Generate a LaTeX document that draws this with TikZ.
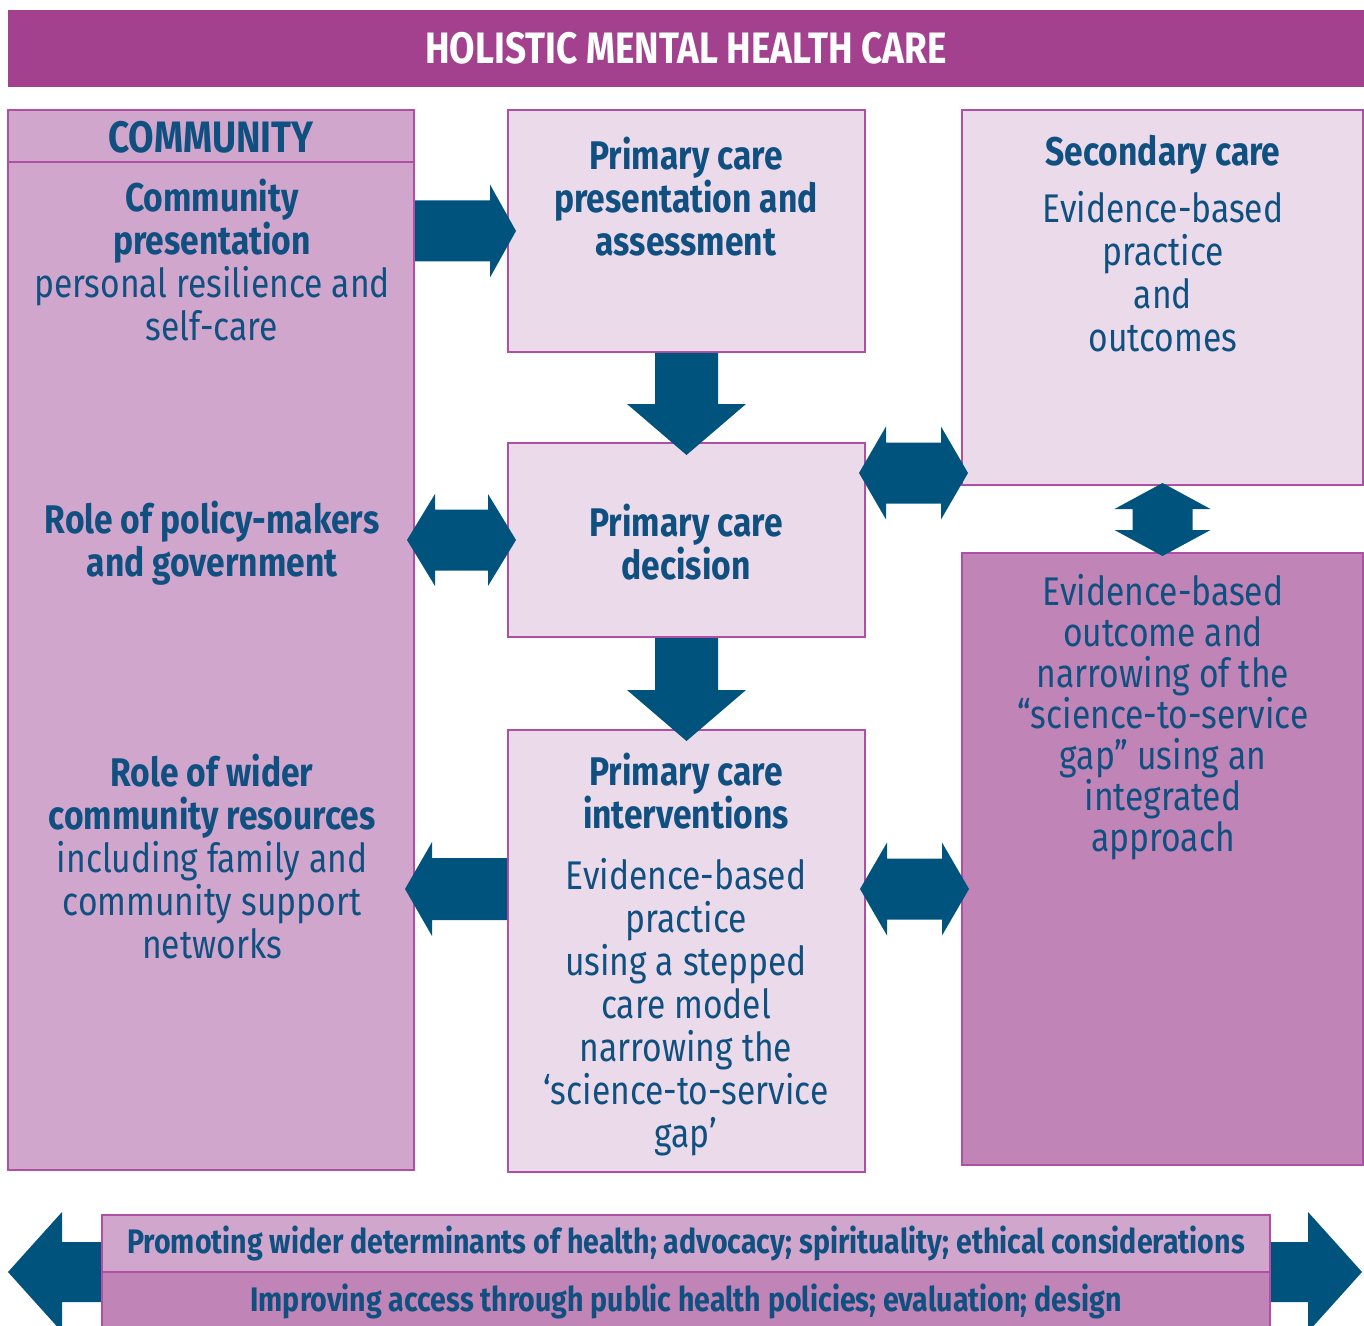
\documentclass[tikz,border=0pt]{standalone}
\usepackage{fontspec}
\setmainfont{Fira Sans}[FakeStretch=0.84]
\usetikzlibrary{calc, fit, positioning}

\definecolor{titlepurple}{RGB}{164,65,143}
\definecolor{commfill}{RGB}{209,166,204}
\definecolor{lightfill}{RGB}{235,218,234}
\definecolor{darkfill}{RGB}{192,132,182}
\definecolor{boxline}{RGB}{177,79,166}
\definecolor{arrowblue}{RGB}{0,83,125}
\definecolor{textblue}{RGB}{16,80,128}

\tikzset{
  box/.style={draw=boxline, line width=1pt, inner sep=0pt},
  commbox/.style={box, fill=commfill},
  lightbox/.style={box, fill=lightfill},
  darkbox/.style={box, fill=darkfill},
  headtext/.style={text=textblue, align=center, font=\bfseries\fontsize{20}{21.5}\selectfont},
  bodytext/.style={text=textblue, align=center, font=\fontsize{20}{21.5}\selectfont},
  bandtext/.style={text=textblue, font=\bfseries\fontsize{17}{20}\selectfont},
}

% block arrow: from, to, shaft half width, head half width, head length
\newcommand{\blockarrow}[5]{%
  \coordinate (ba-hb) at ($(#2)!#5!(#1)$);
  \fill[arrowblue] ($(#1)!#3!90:(#2)$) -- ($(ba-hb)!#3!-90:(#1)$) -- ($(ba-hb)!#4!-90:(#1)$)
    -- (#2) -- ($(ba-hb)!#4!90:(#1)$) -- ($(ba-hb)!#3!90:(#1)$) -- ($(#1)!#3!-90:(#2)$) -- cycle;
}
% same with a head on both ends
\newcommand{\dblarrow}[5]{%
  \coordinate (da-ha) at ($(#1)!#5!(#2)$);
  \coordinate (da-hb) at ($(#2)!#5!(#1)$);
  \fill[arrowblue] (#1) -- ($(da-ha)!#4!90:(#2)$) -- ($(da-ha)!#3!90:(#2)$)
    -- ($(da-hb)!#3!-90:(#1)$) -- ($(da-hb)!#4!-90:(#1)$) -- (#2)
    -- ($(da-hb)!#4!90:(#1)$) -- ($(da-hb)!#3!90:(#1)$)
    -- ($(da-ha)!#3!-90:(#2)$) -- ($(da-ha)!#4!-90:(#2)$) -- cycle;
}

\begin{document}
\begin{tikzpicture}[x=0.5pt, y=-0.5pt]
  \useasboundingbox (0,0) rectangle (1364,1326);
  \clip (0,0) rectangle (1364,1326);

  % title bar
  \node[fill=titlepurple, inner sep=0pt, fit={(8,10) (1364,87)}] (title) {};
  \node[text=white, font=\bfseries\fontsize{22}{24}\selectfont] (titletxt) at (title.center) {HOLISTIC MENTAL HEALTH CARE};

  % boxes
  \node[commbox, fit={(8,110) (414,1170)}] (comm) {};
  \draw[boxline, line width=1pt] (comm.west |- 0,162) -- (comm.east |- 0,162);
  \node[lightbox, fit={(508,110) (865,352)}] (pres) {};
  \node[lightbox, fit={(962,110) (1363,485)}] (sec) {};
  \node[lightbox, fit={(508,443) (865,637)}] (dec) {};
  \node[lightbox, fit={(508,730) (865,1172)}] (int) {};
  \node[darkbox, fit={(962,553) (1363,1165)}] (outc) {};

  % bottom band with its arrow
  \coordinate (bandl) at (102,1272);
  \coordinate (bandr) at (1270,1272);
  \dblarrow{$(bandl)+(-47pt,0)$}{$(bandr)+(46pt,0)$}{15pt}{30pt}{27pt}
  \node[commbox, fit={(102,1215) (1270,1272)}] (band1) {};
  \node[darkbox, fit={(102,1272) (1270,1345)}] (band2) {};

  % texts
  \node[headtext, font=\bfseries\fontsize{22}{24}\selectfont] (commhead) at (211,137) {COMMUNITY};
  \node[bodytext] (commtxt) at (212,260) {\textbf{Community}\\\textbf{presentation}\\personal resilience and\\self-care};
  \node[headtext] (policytxt) at (212,543) {Role of policy-makers\\and government};
  \node[bodytext] (widertxt) at (212,857) {\textbf{Role of wider}\\\textbf{community resources}\\including family and\\community support\\networks};
  \node[headtext] (prestxt) at (686,197) {Primary care\\presentation and\\assessment};
  \node[bodytext] (sectxt) at (1163,244) {\textbf{Secondary care}\\[7pt]Evidence-based\\practice\\and\\outcomes};
  \node[headtext] (dectxt) at (686,542) {Primary care\\decision};
  \node[bodytext] (inttxt) at (686,955) {\textbf{Primary care}\\\textbf{interventions}\\[9pt]Evidence-based\\practice\\using a stepped\\care model\\narrowing the\\`science-to-service\\gap'};
  \node[bodytext, font=\fontsize{20}{20.5}\selectfont] (outctxt) at (1163,717) {Evidence-based\\outcome and\\narrowing of the\\``science-to-service\\gap'' using an\\integrated\\approach};
  \node[bandtext] (band1txt) at (band1.center) {Promoting wider determinants of health; advocacy; spirituality; ethical considerations};
  \node[bandtext] (band2txt) at ($(band2.north)+(0,-15pt)$) {Improving access through public health policies; evaluation; design};

  % arrows between the boxes
  \blockarrow{comm.east |- pres.west}{$(pres.west)+(4.5pt,0)$}{15.25pt}{23.25pt}{13pt}
  \blockarrow{pres.south}{$(dec.north)+(0,-6.5pt)$}{15.75pt}{29.75pt}{25.5pt}
  \blockarrow{dec.south}{$(int.north)+(0,-6pt)$}{15.75pt}{29.75pt}{25.5pt}
  \dblarrow{$(comm.east |- dec.west)+(-4pt,0)$}{$(dec.west)+(4.5pt,0)$}{15.25pt}{23pt}{14pt}
  \coordinate (a4b) at ($(sec.south west)+(3.5pt,6.5pt)$);
  \dblarrow{$(dec.east |- a4b)+(-3.5pt,0)$}{a4b}{15.25pt}{23.25pt}{13.5pt}
  \dblarrow{$(sec.south)+(0,1.5pt)$}{$(outc.north)+(0,-2pt)$}{15pt}{24pt}{13pt}
  \coordinate (a6s) at (int.west |- 0,889);
  \blockarrow{a6s}{$(comm.east |- a6s)+(-5pt,0)$}{15.5pt}{23.5pt}{13.5pt}
  \dblarrow{$(int.east |- a6s)+(-3pt,0)$}{$(outc.west |- a6s)+(4pt,0)$}{15.25pt}{23.25pt}{13.5pt}
\end{tikzpicture}
\end{document}
